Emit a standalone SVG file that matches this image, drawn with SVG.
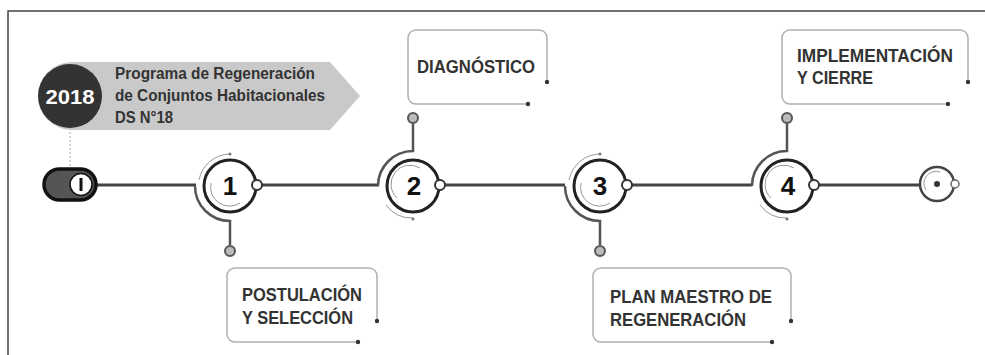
<svg xmlns="http://www.w3.org/2000/svg" width="985" height="355" viewBox="0 0 985 355">
<defs>
<style>
.frame{fill:none;stroke:#444;stroke-width:1.5}
.main{fill:none;stroke:#444;stroke-width:3}
.arc{fill:none;stroke:#555;stroke-width:2.5}
.thin{fill:none;stroke:#999;stroke-width:1}
.node{fill:#fff;stroke:#222;stroke-width:3}
.knob{fill:#fff;stroke:#333;stroke-width:2}
.pin{fill:#bbb;stroke:#555;stroke-width:2}
.box{fill:none;stroke:#b0b0b0;stroke-width:1.5}
.dot{fill:#333}
.num{font-family:"Liberation Sans",Arial,sans-serif;font-weight:bold;font-size:26px;fill:#111;text-anchor:middle}
.lbl{font-family:"Liberation Sans",Arial,sans-serif;font-weight:bold;font-size:19px;fill:#333}
.hdr{font-family:"Liberation Sans",Arial,sans-serif;font-weight:bold;font-size:16px;fill:#333}
</style>
</defs>
<rect width="985" height="355" fill="#fff"/>
<path class="frame" d="M8 355 V11 H985"/>

<g id="header">
<path d="M72 62 H330 L360 96 L330 130 H72 A34 34 0 0 1 72 62 Z" fill="#c9c9c9"/>
<circle cx="70" cy="96" r="32" fill="#333"/>
<text x="70" y="104" font-family="Liberation Sans,Arial,sans-serif" font-weight="bold" font-size="21" fill="#fff" text-anchor="middle" textLength="49" lengthAdjust="spacingAndGlyphs">2018</text>
<text class="hdr" x="115" y="79" textLength="200" lengthAdjust="spacingAndGlyphs">Programa de Regeneración</text>
<text class="hdr" x="115" y="101" textLength="210" lengthAdjust="spacingAndGlyphs">de Conjuntos Habitacionales</text>
<text class="hdr" x="115" y="123" textLength="58" lengthAdjust="spacingAndGlyphs">DS N°18</text>
<line x1="70" y1="128" x2="70" y2="168" stroke="#bbb" stroke-width="1.2" stroke-dasharray="2 2"/>
</g>

<g id="connectors">
<line class="main" x1="97" y1="185" x2="196" y2="185"/>
<line class="main" x1="256" y1="185" x2="379" y2="185"/>
<line class="main" x1="442" y1="185" x2="565" y2="185"/>
<line class="main" x1="628" y1="185" x2="752" y2="185"/>
<line class="main" x1="815" y1="185" x2="920" y2="185"/>
</g>

<g id="start">
<rect x="44" y="169" width="52" height="31" rx="15.5" fill="#555" stroke="#111" stroke-width="3.5"/>
<circle cx="81" cy="184.5" r="11" fill="#fff" stroke="#111" stroke-width="1.5"/>
<line x1="81" y1="178" x2="81" y2="191" stroke="#111" stroke-width="3"/>
</g>

<g id="node1">
<path class="arc" d="M195 186 A35 35 0 0 0 230 221 V245"/>
<circle class="pin" cx="230" cy="251" r="5"/>
<path class="thin" d="M230 154 A32 32 0 0 0 199 180"/>
<circle cx="230" cy="154" r="1.5" fill="#777"/>
<circle class="node" cx="230" cy="186" r="26"/>
<path class="thin" d="M211 183 A19 19 0 0 0 240 203"/>
<circle class="knob" cx="257" cy="185" r="5"/>
<text class="num" x="230" y="195">1</text>
</g>

<g id="node2">
<path class="arc" d="M378 186 A35 35 0 0 1 413 151 V124"/>
<circle class="pin" cx="413" cy="118" r="5"/>
<path class="thin" d="M386 205 A32 32 0 0 0 413 218"/>
<circle cx="413" cy="219" r="1.5" fill="#777"/>
<circle class="node" cx="413" cy="186" r="26"/>
<path class="thin" d="M397 198 A19 19 0 0 1 420 168"/>
<circle class="knob" cx="440" cy="185" r="5"/>
<text class="num" x="414" y="195">2</text>
</g>

<g id="node3">
<path class="arc" d="M565 186 A35 35 0 0 0 600 221 V245"/>
<circle class="pin" cx="600" cy="251" r="5"/>
<path class="thin" d="M600 154 A32 32 0 0 0 569 180"/>
<circle cx="600" cy="154" r="1.5" fill="#777"/>
<circle class="node" cx="600" cy="186" r="26"/>
<path class="thin" d="M581 183 A19 19 0 0 0 610 203"/>
<circle class="knob" cx="627" cy="185" r="5"/>
<text class="num" x="600" y="195">3</text>
</g>

<g id="node4">
<path class="arc" d="M752 186 A35 35 0 0 1 787 151 V124"/>
<circle class="pin" cx="787" cy="118" r="5"/>
<path class="thin" d="M760 205 A32 32 0 0 0 787 218"/>
<circle cx="787" cy="219" r="1.5" fill="#777"/>
<circle class="node" cx="787" cy="186" r="26"/>
<path class="thin" d="M771 198 A19 19 0 0 1 794 168"/>
<circle class="knob" cx="814" cy="185" r="5"/>
<text class="num" x="788" y="195">4</text>
</g>

<g id="end">
<circle cx="937" cy="184" r="17" fill="#fff" stroke="#444" stroke-width="2.5"/>
<path class="thin" d="M926 190 A12 12 0 0 1 940 172"/>
<circle cx="937" cy="184" r="3" fill="#333"/>
<circle cx="955" cy="184" r="4" fill="#fff" stroke="#666" stroke-width="1.5"/>
</g>

<g id="box-postulacion">
<path class="box" d="M358 342 H235 A8 8 0 0 1 227 334 V276 A8 8 0 0 1 235 268 H369 A8 8 0 0 1 377 276 V320"/>
<circle class="dot" cx="377" cy="321" r="2.2"/>
<circle class="dot" cx="358" cy="342" r="2.2"/>
<text class="lbl" x="242" y="301" textLength="120" lengthAdjust="spacingAndGlyphs">POSTULACIÓN</text>
<text class="lbl" x="242" y="324" textLength="111" lengthAdjust="spacingAndGlyphs">Y SELECCIÓN</text>
</g>

<g id="box-diagnostico">
<path class="box" d="M528 104 H416 A8 8 0 0 1 408 96 V38 A8 8 0 0 1 416 30 H539 A8 8 0 0 1 547 38 V81"/>
<circle class="dot" cx="547" cy="82" r="2.2"/>
<circle class="dot" cx="528" cy="104" r="2.2"/>
<text class="lbl" x="417" y="73" textLength="118" lengthAdjust="spacingAndGlyphs">DIAGNÓSTICO</text>
</g>

<g id="box-plan">
<path class="box" d="M772 342 H601 A8 8 0 0 1 593 334 V276 A8 8 0 0 1 601 268 H783 A8 8 0 0 1 791 276 V320"/>
<circle class="dot" cx="791" cy="321" r="2.2"/>
<circle class="dot" cx="772" cy="342" r="2.2"/>
<text class="lbl" x="610" y="303" textLength="162" lengthAdjust="spacingAndGlyphs">PLAN MAESTRO DE</text>
<text class="lbl" x="610" y="326" textLength="136" lengthAdjust="spacingAndGlyphs">REGENERACIÓN</text>
</g>

<g id="box-implementacion">
<path class="box" d="M948 104 H790 A8 8 0 0 1 782 96 V38 A8 8 0 0 1 790 30 H960 A8 8 0 0 1 968 38 V81"/>
<circle class="dot" cx="968" cy="82" r="2.2"/>
<circle class="dot" cx="948" cy="104" r="2.2"/>
<text class="lbl" x="797" y="62" textLength="156" lengthAdjust="spacingAndGlyphs">IMPLEMENTACIÓN</text>
<text class="lbl" x="797" y="84" textLength="76" lengthAdjust="spacingAndGlyphs">Y CIERRE</text>
</g>
</svg>
